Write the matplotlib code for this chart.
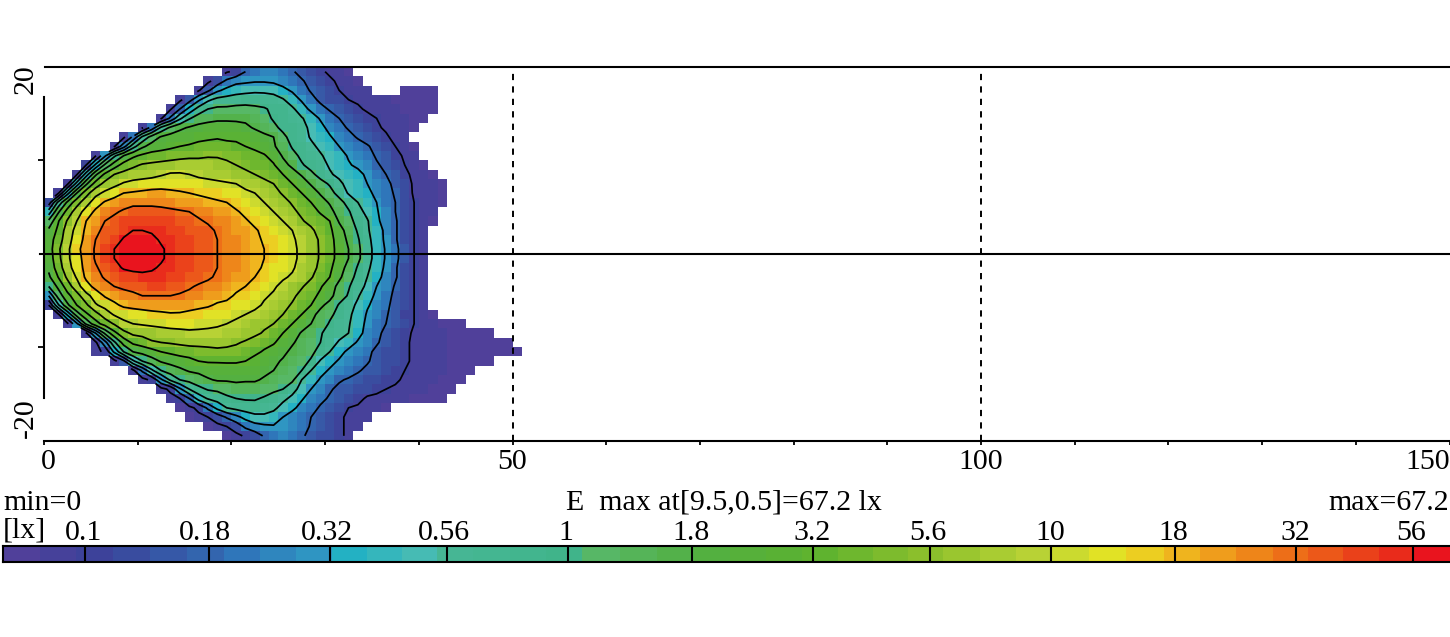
import numpy as np
import matplotlib
matplotlib.use("Agg")
import matplotlib.pyplot as plt
from matplotlib.colors import LinearSegmentedColormap, Normalize
from matplotlib.transforms import ScaledTranslation

plt.rcParams['font.family'] = ['Liberation Serif', 'DejaVu Sans']

# Illuminance read per 1x1 cell, in tenths of a colour-scale step
# (10 = 0.1 lx, 20 = 0.18, ... 120 = 56); -1 = no cell. Rows from y=+19.5 to y=-19.5.
row_start = [19,17,16,14,13,12,10,8,7,5,4,3,2,1,0,0,0,0,0,0,
             0,0,0,0,0,0,1,2,4,5,5,7,9,10,12,13,14,15,17,19]
E_rows = [
[9,12,20,24,26,26,24,21,17,14,11,9,7,6],
[8,14,22,27,28,29,29,28,27,24,21,17,14,11,9,7,6],
[9,18,28,33,36,37,38,38,37,32,29,24,19,16,13,10,9,8,7,-1,-1,-1,5,5,5,5],
[8,16,28,38,43,44,45,46,46,45,44,41,34,29,23,18,15,13,10,9,8,7,7,6,6,6,5,5],
[9,20,33,44,50,52,52,53,53,52,51,48,46,42,34,28,23,19,16,13,11,9,8,7,7,6,6,5,5],
[9,22,38,49,55,57,58,58,58,58,56,53,49,46,44,41,35,29,24,20,17,14,12,10,8,8,7,6,5],
[9,24,42,52,58,61,63,64,65,65,64,62,59,55,52,48,46,43,38,33,27,23,19,16,14,11,9,8,7,6],
[8,22,42,54,61,64,65,66,67,68,69,68,68,67,65,63,60,52,47,44,39,35,31,26,23,19,16,13,11,8,7],
[9,26,46,58,64,66,68,70,71,73,74,74,73,72,70,68,65,61,56,49,46,42,38,34,30,27,24,21,17,13,10,8,6],
[9,28,48,60,68,72,74,75,76,77,78,78,79,79,78,77,75,73,71,66,59,53,48,45,41,37,34,29,26,23,19,16,12,9,7],
[10,32,52,65,74,78,81,82,83,84,85,85,85,85,84,82,80,77,75,73,71,63,58,51,47,43,39,35,31,28,25,21,18,14,10,8,6],
[9,35,58,72,80,83,85,86,87,89,91,91,90,88,87,86,85,84,83,80,78,74,70,64,59,52,47,41,38,36,33,28,24,20,16,12,8,7,6],
[8,34,58,74,83,87,91,93,94,95,96,96,96,95,94,93,92,91,90,87,85,82,80,75,70,65,59,53,49,42,37,34,30,26,22,18,13,9,8,7,6],
[8,36,60,76,87,92,96,100,101,102,103,103,102,101,100,99,98,97,95,94,92,90,87,83,79,75,70,65,59,53,47,39,36,33,27,23,19,14,9,8,7,6],
[14,42,62,76,86,95,101,104,107,108,108,108,107,106,105,104,103,102,101,100,97,95,92,90,86,83,79,74,70,64,59,53,47,40,35,30,24,20,15,10,8,7,6],
[34,58,74,85,94,102,106,109,111,113,113,113,113,112,111,110,108,107,105,103,101,98,95,93,90,86,82,78,74,69,63,56,51,44,37,31,25,20,15,10,8,7],
[52,69,81,90,100,105,110,112,115,117,117,117,116,115,114,113,111,109,108,106,103,101,98,95,93,90,86,81,77,74,70,59,53,47,41,32,26,21,15,10,8,6],
[62,72,85,93,102,108,112,114,117,120,120,119,118,117,116,114,113,112,109,107,105,103,101,98,95,93,90,86,82,76,72,64,56,49,41,36,27,21,15,10,8],
[65,75,86,95,103,110,113,116,121,123,123,122,119,118,117,115,114,112,110,108,106,104,102,99,97,94,91,88,83,79,73,66,58,51,43,35,28,21,15,10,8],
[65,78,88,97,105,111,115,120,122,123,123,122,121,118,117,116,114,112,110,108,106,104,102,100,97,94,92,88,84,79,73,67,60,52,44,36,29,22,16,10,8],
[64,77,88,96,104,111,115,120,123,123,123,123,121,118,117,115,114,112,110,108,106,104,102,100,97,94,92,88,84,79,73,67,60,52,44,36,29,22,16,10,8],
[62,75,86,95,103,109,113,117,121,122,122,121,119,118,117,115,114,112,110,108,106,104,102,99,96,94,91,87,83,78,72,64,57,49,42,35,28,21,15,10,8],
[58,70,82,91,102,107,111,113,115,117,118,118,118,117,116,114,113,111,109,107,105,103,100,97,94,91,89,85,81,75,70,62,54,47,40,33,27,21,15,10,8],
[50,62,75,86,96,103,107,110,112,113,114,115,115,114,113,111,109,108,106,104,102,100,97,94,91,88,84,81,76,71,65,57,51,44,38,30,25,19,14,10,8],
[30,54,67,76,87,94,101,104,106,108,110,110,110,110,109,108,106,105,103,102,99,97,94,91,89,85,82,77,73,68,63,55,49,41,34,28,23,18,14,10,8],
[10,38,58,70,78,89,93,98,102,103,104,105,105,105,104,103,102,101,99,98,96,94,92,89,86,83,79,75,70,62,57,49,44,38,31,27,22,17,13,10,8],
[8,32,55,68,76,85,91,93,95,96,97,98,99,99,98,97,96,95,94,92,90,88,85,82,80,75,70,63,57,52,47,42,36,29,25,21,16,12,10,8,6],
[8,28,52,66,74,81,88,90,91,92,93,94,94,94,93,92,91,90,88,86,84,82,80,75,70,65,60,55,49,45,41,34,28,24,20,16,13,10,8,7,6,6,5],
[9,30,52,67,77,82,83,84,85,86,87,88,88,88,88,87,85,84,82,79,75,70,65,59,55,51,46,43,40,33,27,22,18,15,12,9,8,7,7,6,6,6,5,5],
[8,26,48,64,72,75,79,80,81,82,83,83,83,83,82,81,79,76,73,71,66,61,57,54,50,44,39,34,29,25,21,17,14,11,9,8,7,7,6,6,6,5,5,5,5],
[7,12,32,50,60,63,66,70,72,74,75,76,77,78,78,77,75,72,69,66,62,58,55,52,47,40,33,28,25,22,18,15,13,11,9,8,7,7,6,6,6,6,5,5,5,5],
[7,18,38,50,56,61,63,65,67,70,71,71,71,71,70,67,64,62,59,56,53,49,39,33,29,26,23,21,17,15,13,11,9,8,7,7,6,6,6,5,5],
[8,22,38,50,55,58,61,62,64,65,66,66,65,64,62,60,57,54,50,40,33,29,26,24,21,18,16,14,12,10,9,8,7,7,6,6,5],
[7,12,28,42,50,53,56,59,61,61,62,61,61,59,56,54,52,40,35,29,25,21,19,17,15,14,12,11,9,8,7,7,6,6,5],
[7,12,28,40,47,51,52,54,55,56,56,54,52,50,43,37,30,25,21,18,16,15,13,12,10,9,8,7,7,6,6,5],
[7,10,20,34,41,44,48,50,51,51,49,46,42,38,31,26,22,19,17,15,12,9,8,8,7,7,6,6,6,5],
[6,8,12,22,33,40,43,45,46,44,42,37,32,27,23,19,16,13,10,9,8,7,6],
[6,8,10,14,21,27,33,37,38,36,30,26,23,20,16,13,11,9,8,7],
[6,8,10,14,22,26,28,29,29,27,24,19,16,13,11,9,7],
[6,8,11,15,21,24,25,24,21,18,15,13,11,9],
]

scale_levels = [1,2,3,4,5,6,7,8,9,10,11,12]
scale_labels = ['0.1','0.18','0.32','0.56','1','1.8','3.2','5.6','10','18','32','56']
scale_min, scale_max = 0.32, 12.3
scale_positions = [0.32,1.0,1.9,2.0,2.9,3.0,3.9,4.0,5.0,5.02,6.0,7.0,8.0,9.0,9.6,10.0,11.0,12.0,12.3]
scale_colors = ['#50409a','#3c439a','#3367b0','#2f6eb8','#2f9cc4','#1fb0c6','#52bfb0','#47b795',
                '#40b48a','#59ba70','#52b044','#5cb230','#8cc02c','#bcd436','#e6e424','#f0c020',
                '#ee7418','#e92b1c','#e9141e']
x_ticks = list(range(0,151,10))
x_tick_labels = {0:'0',50:'50',100:'100',150:'150'}

W, H = 1450, 637
FS = 21.5
fig = plt.figure(figsize=(W/100, H/100), dpi=100, facecolor='white')

def box(l, t, r, b):
    return [l/W, 1-b/H, (r-l)/W, (b-t)/H]

cmap = LinearSegmentedColormap.from_list(
    'lux', [((p-scale_min)/(scale_max-scale_min), c) for p, c in zip(scale_positions, scale_colors)], N=40)
norm = Normalize(scale_min, scale_max)

field = np.full((40, 52), -1.0)
for i, (s, vals) in enumerate(zip(row_start, E_rows)):
    n = min(len(vals), 52-s)
    field[i, s:s+n] = vals[:n]
field = np.ma.masked_less(field, 0) / 10.0

ax = fig.add_axes(box(44, 67, 1449.5, 440.5))
xe = np.arange(53); ye = np.arange(20, -21, -1)
ax.pcolormesh(xe, ye, field, cmap=cmap, norm=norm, linewidth=0, zorder=1)
xc = xe[:-1]+0.5; yc = ye[:-1]-0.5
ax.contour(xc, yc, field, levels=scale_levels, colors='k', linewidths=1.25, zorder=2)

ax.set_xlim(0, 150); ax.set_ylim(-20, 20)
for v in (50, 100):
    ax.axvline(v, color='k', lw=1.4, dashes=(3.2, 3.2), zorder=3)
ax.plot([-0.45, 150], [0, 0], color='k', lw=1.5, clip_on=False, zorder=4)

ax.spines['right'].set_visible(False)
ax.spines['left'].set_bounds(-15.4, 16.8)
for s in ('left','top','bottom'):
    ax.spines[s].set_linewidth(1.5)
ax.spines['top'].set_bounds(0.1, 150)

ax.set_yticks([-10, 10]); ax.set_yticklabels([])
ax.tick_params(axis='y', length=4, width=1.3)
ax.set_xticks(x_ticks)
ax.set_xticklabels([x_tick_labels.get(v, '') for v in x_ticks], fontsize=FS)
ax.tick_params(axis='x', length=3, width=1.3, pad=3)
for lab, v in zip(ax.get_xticklabels(), x_ticks):
    lab.set_ha('right' if v == 150 else 'center')
    if v == 0:
        lab.set_transform(lab.get_transform() + ScaledTranslation(4/100, 0, fig.dpi_scale_trans))
ax.text(-1.95, 18.7, '20', rotation=90, ha='center', va='center', fontsize=FS, clip_on=False)
ax.text(-1.95, -17.6, '-20', rotation=90, ha='center', va='center', fontsize=FS, clip_on=False)

fig.text(3/W, 1-502.5/H, 'min=0', fontsize=FS, ha='left', va='center')
fig.text(724/W, 1-502.5/H, 'E  max at[9.5,0.5]=67.2 lx', fontsize=FS, ha='center', va='center')
fig.text(1449/W, 1-502.5/H, 'max=67.2', fontsize=FS, ha='right', va='center')
fig.text(3/W, 1-530/H, '[lx]', fontsize=FS, ha='left', va='center')

# colour bar drawn in pixel columns: the scale's step marks are not quite evenly spaced
bar_marks = [85,209,330,447,568,692,813,930,1051,1175,1296,1413]
bar_label_centres = [83,205,327,444,566,691,812,928,1050,1173,1295,1411]
cax = fig.add_axes(box(3, 546, 1449.5, 562))
cols = np.arange(3, 1450)
col_values = np.interp(cols, [3] + bar_marks + [1449.5], [scale_min] + scale_levels + [scale_max])
cax.imshow(col_values[None, :], cmap=cmap, norm=norm, aspect='auto',
           extent=[3, 1449.5, 0, 1], interpolation='nearest')
cax.vlines(bar_marks, 0, 1, color='k', lw=1.5)
cax.set_yticks([])
cax.xaxis.tick_top()
cax.set_xticks(bar_label_centres)
cax.set_xticklabels(scale_labels, fontsize=FS)
cax.tick_params(axis='x', length=0, pad=0)
for s in cax.spines.values():
    s.set_linewidth(1.5)
cax.spines['right'].set_visible(False)

fig.savefig('out.png', dpi=100, facecolor='white')
